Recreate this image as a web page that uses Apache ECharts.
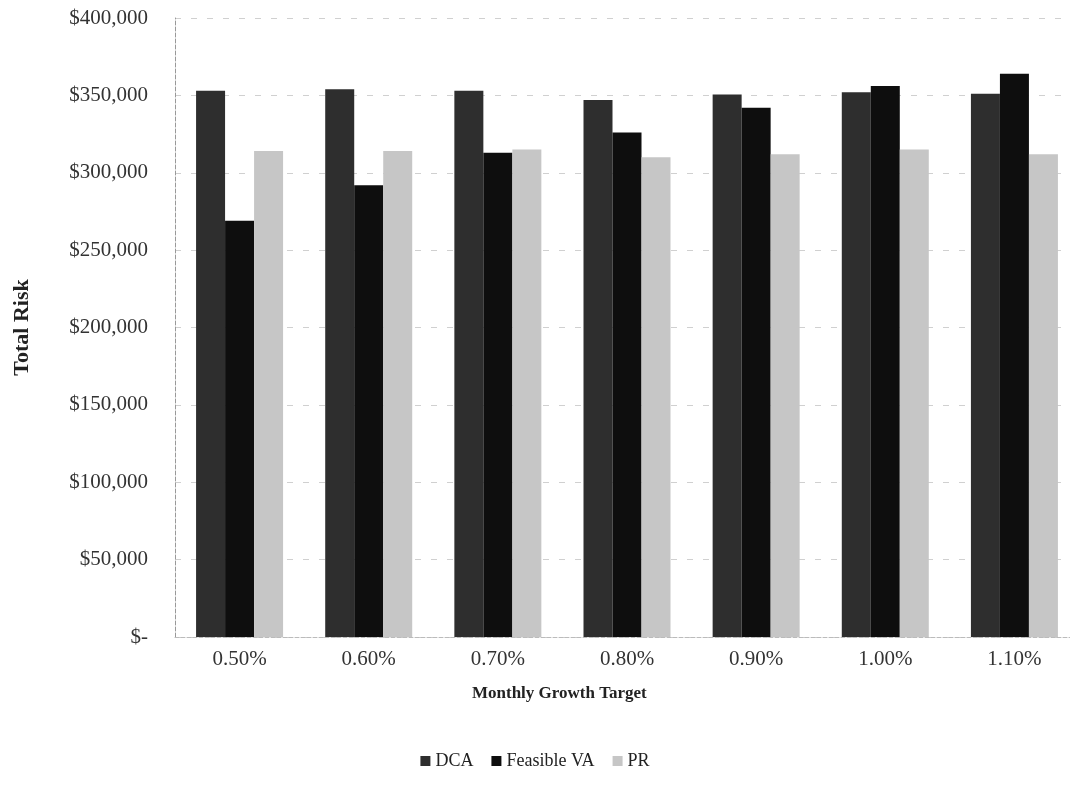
<!DOCTYPE html>
<html>
<head>
<meta charset="utf-8">
<script src="https://cdn.jsdelivr.net/npm/echarts@6/dist/echarts.min.js"></script>
<style>
  html, body { margin: 0; padding: 0; background: #fff; }
  #chart { width: 1070px; height: 797px; }
</style>
</head>
<body>
<div id="chart"></div>
<script>
// Monthly growth targets on the category axis
const categories = ['0.50%', '0.60%', '0.70%', '0.80%', '0.90%', '1.00%', '1.10%'];

// Total risk per strategy, in dollars
const dcaValues = [353000, 354000, 353000, 347000, 350500, 352000, 351000];
const feasibleVaValues = [269000, 292000, 313000, 326000, 342000, 356000, 364000];
const prValues = [314000, 314000, 315000, 310000, 312000, 315000, 312000];

const seriesNames = ['DCA', 'Feasible VA', 'PR'];

const serif = '"Liberation Serif", "DejaVu Serif", serif';

function money(v) {
  if (v === 0) return '$-';
  return '$' + v.toLocaleString('en-US');
}

const chart = echarts.init(document.getElementById('chart'), null, { renderer: 'canvas' });

chart.setOption({
  animation: false,
  backgroundColor: '#ffffff',
  // plot area runs a little past the right edge of the canvas
  grid: { left: 175, top: 18, width: 904, bottom: 160, containLabel: false, outerBoundsMode: 'none' },
  legend: {
    data: seriesNames,
    bottom: 22,
    left: 'center',
    itemWidth: 10,
    itemHeight: 10,
    itemGap: 18,
    icon: 'rect',
    textStyle: { fontFamily: serif, fontSize: 18, color: '#222' }
  },
  graphic: [
    {
      type: 'text',
      left: 472,
      top: 685,
      style: {
        text: 'Monthly Growth Target',
        font: 'bold 17px ' + serif,
        fill: '#222'
      }
    }
  ],
  xAxis: {
    type: 'category',
    data: categories,
    axisLine: { show: true, lineStyle: { color: '#bbb', type: 'dashed', width: 1 } },
    axisTick: { show: false },
    axisLabel: { fontFamily: serif, fontSize: 21, color: '#333', margin: 12 }
  },
  yAxis: {
    type: 'value',
    min: 0,
    max: 400000,
    interval: 50000,
    name: 'Total Risk',
    nameLocation: 'middle',
    nameGap: 142,
    nameRotate: 90,
    nameTextStyle: { fontFamily: serif, fontSize: 22, fontWeight: 'bold', color: '#222' },
    axisLine: { show: true, lineStyle: { color: '#999', type: 'dashed', width: 1 } },
    axisTick: { show: false },
    axisLabel: { fontFamily: serif, fontSize: 21, color: '#333', margin: 27, formatter: money },
    splitLine: { show: true, lineStyle: { color: '#d0d0d0', type: [6, 10], width: 1 } }
  },
  series: [
    {
      name: 'DCA', type: 'bar', data: dcaValues,
      barWidth: 29, barGap: '0%',
      itemStyle: { color: '#2e2e2e' }
    },
    {
      name: 'Feasible VA', type: 'bar', data: feasibleVaValues,
      barWidth: 29, barGap: '0%',
      itemStyle: { color: '#0e0e0e' }
    },
    {
      name: 'PR', type: 'bar', data: prValues,
      barWidth: 29, barGap: '0%',
      itemStyle: { color: '#c6c6c6' }
    }
  ]
});
</script>
</body>
</html>
